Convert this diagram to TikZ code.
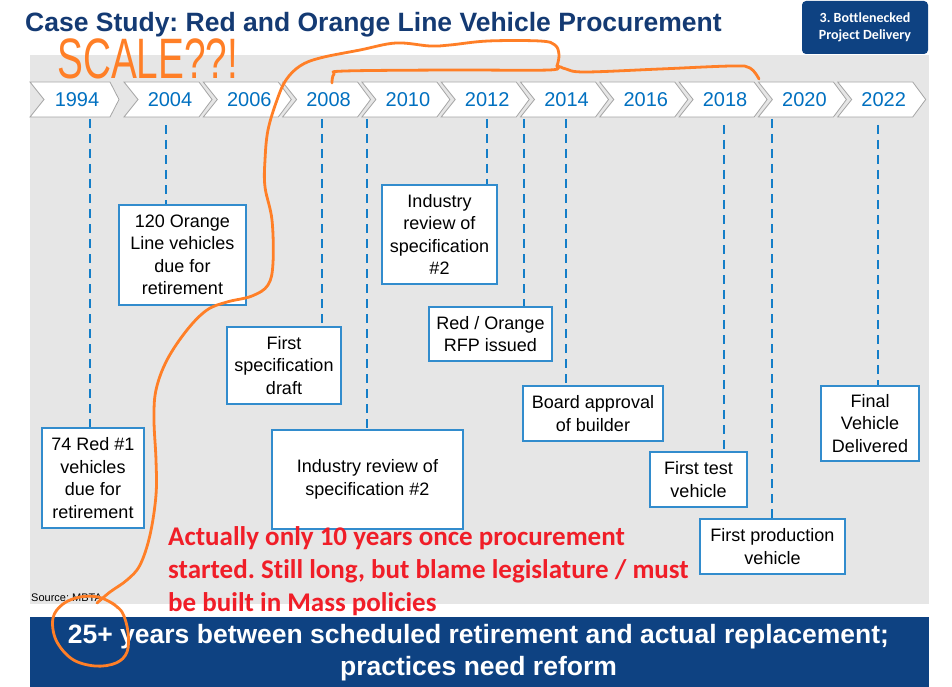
\documentclass[tikz,border=0pt]{standalone}
\usepackage{fontspec}
\usepackage{graphicx}
\setmainfont{Liberation Sans}
\newfontfamily\carlito[Ligatures=NoCommon]{Carlito}
\definecolor{navy}{RGB}{14,66,130}
\definecolor{titleblue}{RGB}{20,58,115}
\definecolor{yearblue}{RGB}{0,112,192}
\definecolor{dashblue}{RGB}{20,126,200}
\definecolor{boxblue}{RGB}{50,140,205}
\definecolor{panelgray}{RGB}{230,230,230}
\definecolor{chevgray}{RGB}{165,165,165}
\definecolor{penorange}{RGB}{255,127,39}
\definecolor{annred}{RGB}{240,30,40}
\frenchspacing
\begin{document}
\begin{tikzpicture}[x=1pt,y=-1pt,
  box/.style={draw=boxblue, line width=1.3pt, fill=white, align=center, font=\fontsize{18}{22.5}\selectfont, inner sep=0pt},
  dl/.style={draw=dashblue, line width=2.4pt, dash pattern=on 9pt off 6pt},
  chev/.style={draw=chevgray, line width=0.8pt, fill=white},
  yr/.style={text=yearblue, font=\fontsize{20}{24}\selectfont, inner sep=0pt},
  pen/.style={draw=penorange, line width=2.8pt, line cap=round, line join=round},
  red/.style={anchor=base west, inner sep=0pt, text=annred, font=\carlito\bfseries\fontsize{27}{33}\selectfont},
  band/.style={anchor=base, inner sep=0pt, text=white, font=\bfseries\fontsize{26.5}{32}\selectfont}]
\useasboundingbox (0,0) rectangle (952,687);
\fill[white] (0,0) rectangle (952,687);
\fill[panelgray] (30,55) rectangle (929,604);
\fill[navy] (30,617) rectangle (929,687);

% title and tag
\node[anchor=base west, inner sep=0pt, text=titleblue, font=\bfseries\fontsize{26.5}{30}\selectfont] (title) at (25,32) {Case Study: Red and Orange Line Vehicle Procurement};
\node[fill=navy, rounded corners=4pt, minimum width=126pt, minimum height=53pt, inner sep=0pt, text=white, align=center, font=\carlito\bfseries\fontsize{14}{16.5}\selectfont] (tag) at (865,27.5) {3. Bottlenecked\\Project Delivery};

% chevrons
\draw[chev] (30,82) -- (110,82) -- (119,99.5) -- (110,117) -- (30,117) -- (44,99.5) -- cycle;
\node[yr] (y1994) at (77,99.5) {1994};
\foreach \yy [count=\i from 0] in {2004,2006,2008,2010,2012,2014,2016,2018,2020,2022} {
  \pgfmathsetmacro\xo{124+\i*79.3}
  \draw[chev] (\xo,82) -- (\xo+75,82) -- (\xo+88,99.5) -- (\xo+75,117) -- (\xo,117) -- (\xo+14,99.5) -- cycle;
  \node[yr] (y\yy) at (\xo+46,99.5) {\yy};
}

% event boxes
\node[box, minimum width=102pt, minimum height=100pt] (b1) at (93,478) {74 Red \#1\\vehicles\\due for\\retirement};
\node[box, minimum width=127pt, minimum height=100pt] (b2) at (182.5,255) {120 Orange\\Line vehicles\\due for\\retirement};
\node[box, minimum width=114pt, minimum height=77pt] (b3) at (284,365.5) {First\\specification\\draft};
\node[box, minimum width=191pt, minimum height=99pt] (b4) at (367.5,479.5) {Industry review of\\specification \#2};
\node[box, minimum width=115pt, minimum height=99pt] (b5) at (439.5,234.5) {Industry\\review of\\specification\\\#2};
\node[box, minimum width=123pt, minimum height=54pt] (b6) at (490.5,334) {Red / Orange\\RFP issued};
\node[box, minimum width=140pt, minimum height=55pt] (b7) at (593,413.5) {Board approval\\of builder};
\node[box, minimum width=97pt, minimum height=55pt] (b8) at (698.5,479.5) {First test\\vehicle};
\node[box, minimum width=145pt, minimum height=55pt] (b9) at (772.5,546.5) {First production\\vehicle};
\node[box, minimum width=98pt, minimum height=75pt] (b10) at (870,423.5) {Final\\Vehicle\\Delivered};

% dashed connectors
\coordinate (t1) at (90,119);
\coordinate (t2) at (166,125);
\coordinate (t3) at (322,119);
\coordinate (t4) at (367,119);
\coordinate (t5) at (487,119);
\coordinate (t6) at (524,119);
\coordinate (t7) at (566,119);
\coordinate (t8) at (724,125);
\coordinate (t9) at (772,119);
\coordinate (t10) at (878,125);
\foreach \k in {1,...,10} {
  \draw[dl] (t\k) -- (t\k |- b\k.north);
}

% source
\node[anchor=base west, inner sep=0pt, font=\fontsize{11}{13}\selectfont] (src) at (31,601) {Source: MBTA};

% red annotation
\node[red] (r1) at (168,545) {Actually only 10 years once procurement};
\node[red] (r2) at (168,578) {started. Still long, but blame legislature / must};
\node[red] (r3) at (168,611) {be built in Mass policies};

% bottom band text
\node[band] (m1) at (478.5,643) {25+ years between scheduled retirement and actual replacement;};
\node[band] (m2) at (478.5,675) {practices need reform};

% orange handwriting
\node[anchor=base west, inner sep=0pt, text=penorange] (scale) at (57,79) {\scalebox{0.68}[1]{\fontsize{57}{59}\selectfont SCALE??!}};
\draw[pen] plot[smooth, tension=0.6] coordinates {(332,83) (334,74) (345,71) (450,70) (549,70) (557,66) (566,69) (585,72) (660,69) (732,66) (750,68) (759,79)};
\draw[pen] plot[smooth, tension=0.6] coordinates {(557,66) (559,55) (555,45) (540,41) (488,41) (450,45) (430,46) (396,43) (360,50) (320,58) (300,66) (286,80) (277,100) (268,130) (265,160) (265,187) (272,220) (273,263) (268,285) (252,296) (227,302) (207,310) (187,330) (167,360) (156,390) (154,420) (156,460) (156,495) (150,535) (140,565) (127,580) (110,592) (97,603)};
\draw[pen] plot[smooth, tension=0.6] coordinates {(110,602) (122,612) (128,632) (127,652) (116,663) (95,666) (72,659) (56,640) (53,618) (63,604) (80,597) (98,597) (112,603) (118,608)};
\end{tikzpicture}
\end{document}
